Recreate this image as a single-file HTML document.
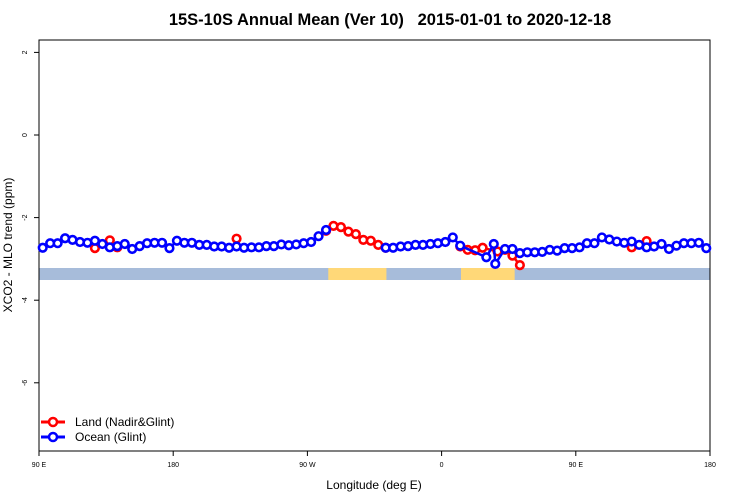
<!DOCTYPE html>
<html><head><meta charset="utf-8"><style>
body{margin:0;background:#fff;}
svg{display:block;font-family:"Liberation Sans",sans-serif;}
</style></head><body>
<svg id="chart" width="750" height="500">
<rect width="750" height="500" fill="#fff"/>
<text x="390" y="25" text-anchor="middle" font-size="16.5" font-weight="bold" style="white-space:pre">15S-10S Annual Mean (Ver 10)   2015-01-01 to 2020-12-18</text>
<text x="374" y="489" text-anchor="middle" font-size="12">Longitude (deg E)</text>
<text transform="translate(12,245) rotate(-90)" text-anchor="middle" font-size="12">XCO2 - MLO trend (ppm)</text>
<g id="band"></g>
<g id="axes"></g>
<g id="series"></g>
<g id="legend">
<g>
<line x1="41" y1="422" x2="65" y2="422" stroke="#f00" stroke-width="3"/>
<circle cx="53" cy="422" r="4" fill="#fff" stroke="#f00" stroke-width="2.5"/>
<text x="75" y="426" font-size="12">Land (Nadir&amp;Glint)</text></g>
<g>
<line x1="41" y1="437" x2="65" y2="437" stroke="#00f" stroke-width="3"/>
<circle cx="53" cy="437" r="4" fill="#fff" stroke="#00f" stroke-width="2.5"/>
<text x="75" y="441" font-size="12">Ocean (Glint)</text></g>
</g>
</svg>
<script>
const xTickVals=[90,180,270,360,450,540];
const xTickLabels=["90 E","180","90 W","0","90 E","180"];
const yTickVals=[2,0,-2,-4,-6];
const oceanLon=[92.5,97.5,102.5,107.5,112.5,117.5,122.5,127.5,132.5,137.5,142.5,147.5,152.5,157.5,162.5,167.5,172.5,177.5,182.5,187.5,192.5,197.5,202.5,207.5,212.5,217.5,222.5,227.5,232.5,237.5,242.5,247.5,252.5,257.5,262.5,267.5,272.5,277.5,282.5,null,322.5,327.5,332.5,337.5,342.5,347.5,352.5,357.5,362.5,367.5,372.5,390,395,396,402.5,407.5,412.5,417.5,422.5,427.5,432.5,437.5,442.5,447.5,452.5,457.5,462.5,467.5,472.5,477.5,482.5,487.5,492.5,497.5,502.5,507.5,512.5,517.5,522.5,527.5,532.5,537.5];
const oceanVal=[-2.73,-2.62,-2.62,-2.50,-2.54,-2.59,-2.61,-2.56,-2.64,-2.72,-2.69,-2.64,-2.76,-2.69,-2.62,-2.61,-2.61,-2.74,-2.56,-2.61,-2.61,-2.66,-2.66,-2.70,-2.70,-2.73,-2.70,-2.73,-2.72,-2.72,-2.69,-2.69,-2.65,-2.67,-2.65,-2.62,-2.59,-2.45,-2.30,null,-2.73,-2.73,-2.70,-2.69,-2.66,-2.66,-2.64,-2.62,-2.59,-2.48,-2.68,-2.96,-2.64,-3.12,-2.76,-2.76,-2.86,-2.84,-2.84,-2.83,-2.78,-2.80,-2.74,-2.74,-2.72,-2.62,-2.62,-2.48,-2.53,-2.58,-2.61,-2.58,-2.66,-2.72,-2.70,-2.64,-2.76,-2.68,-2.62,-2.62,-2.61,-2.74];
const landLon=[127.5,137.5,142.5,null,222.5,null,282.5,287.5,292.5,297.5,302.5,307.5,312.5,317.5,322.5,null,372.5,377.5,382.5,387.5,397.5,402.5,407.5,412.5,null,487.5,497.5];
const landVal=[-2.74,-2.55,-2.72,null,-2.51,null,-2.32,-2.20,-2.23,-2.34,-2.40,-2.54,-2.56,-2.66,-2.73,null,-2.70,-2.78,-2.79,-2.73,-2.82,-2.78,-2.92,-3.15,null,-2.72,-2.57];
const landBandStart=[284,373];
const landBandEnd=[323,409];

const L=39,R=710,T=40,B=451;
const xs=v=>L+(v-90)*(R-L)/450;
const ys=v=>135-(v*41.3);
const NS="http://www.w3.org/2000/svg";
function mk(tag,attrs,parent){const e=document.createElementNS(NS,tag);for(const k in attrs)e.setAttribute(k,attrs[k]);parent.appendChild(e);return e;}
const band=document.getElementById('band'),axes=document.getElementById('axes'),series=document.getElementById('series');
let b=mk('rect',{x:L,y:268,width:R-L,height:12,fill:'#a7bcda'},band);


landBandStart.forEach((s,i)=>{const r=mk('rect',{x:xs(s),y:268,width:xs(landBandEnd[i])-xs(s),height:12,fill:'#ffd878'},band);

});
let box=mk('rect',{x:L,y:T,width:R-L,height:B-T,fill:'none',stroke:'#000','stroke-width':1},axes);


xTickVals.forEach((v,i)=>{const x=xs(v);mk('line',{x1:x,y1:B,x2:x,y2:B+5,stroke:'#000'},axes);
const t=mk('text',{x:x,y:467,'text-anchor':'middle','font-size':7},axes);t.textContent=xTickLabels[i];

});
yTickVals.forEach(v=>{const y=ys(v);mk('line',{x1:L-5,y1:y,x2:L,y2:y,stroke:'#000'},axes);
const t=mk('text',{transform:`translate(27,${y}) rotate(-90)`,'text-anchor':'middle','font-size':7},axes);t.textContent=String(v);

});
function draw(lons,vals,color,name){
 const g=mk('g',{},series);
 
 
 let seg=[];const segs=[];
 lons.forEach((l,i)=>{if(l===null||vals[i]===null){if(seg.length)segs.push(seg);seg=[];}else seg.push([xs(l),ys(vals[i])]);});
 if(seg.length)segs.push(seg);
 segs.forEach(s=>{const p=mk('polyline',{points:s.map(q=>q.join(',')).join(' '),fill:'none',stroke:color,'stroke-width':2.5},g);
 
 });
 segs.flat().forEach(q=>{const c=mk('circle',{cx:q[0],cy:q[1],r:3.8,fill:'#fff',stroke:color,'stroke-width':2.6},g);
 
 });
}
draw(landLon,landVal,'#f00','land');
draw(oceanLon,oceanVal,'#00f','ocean');
</script>
</body></html>
